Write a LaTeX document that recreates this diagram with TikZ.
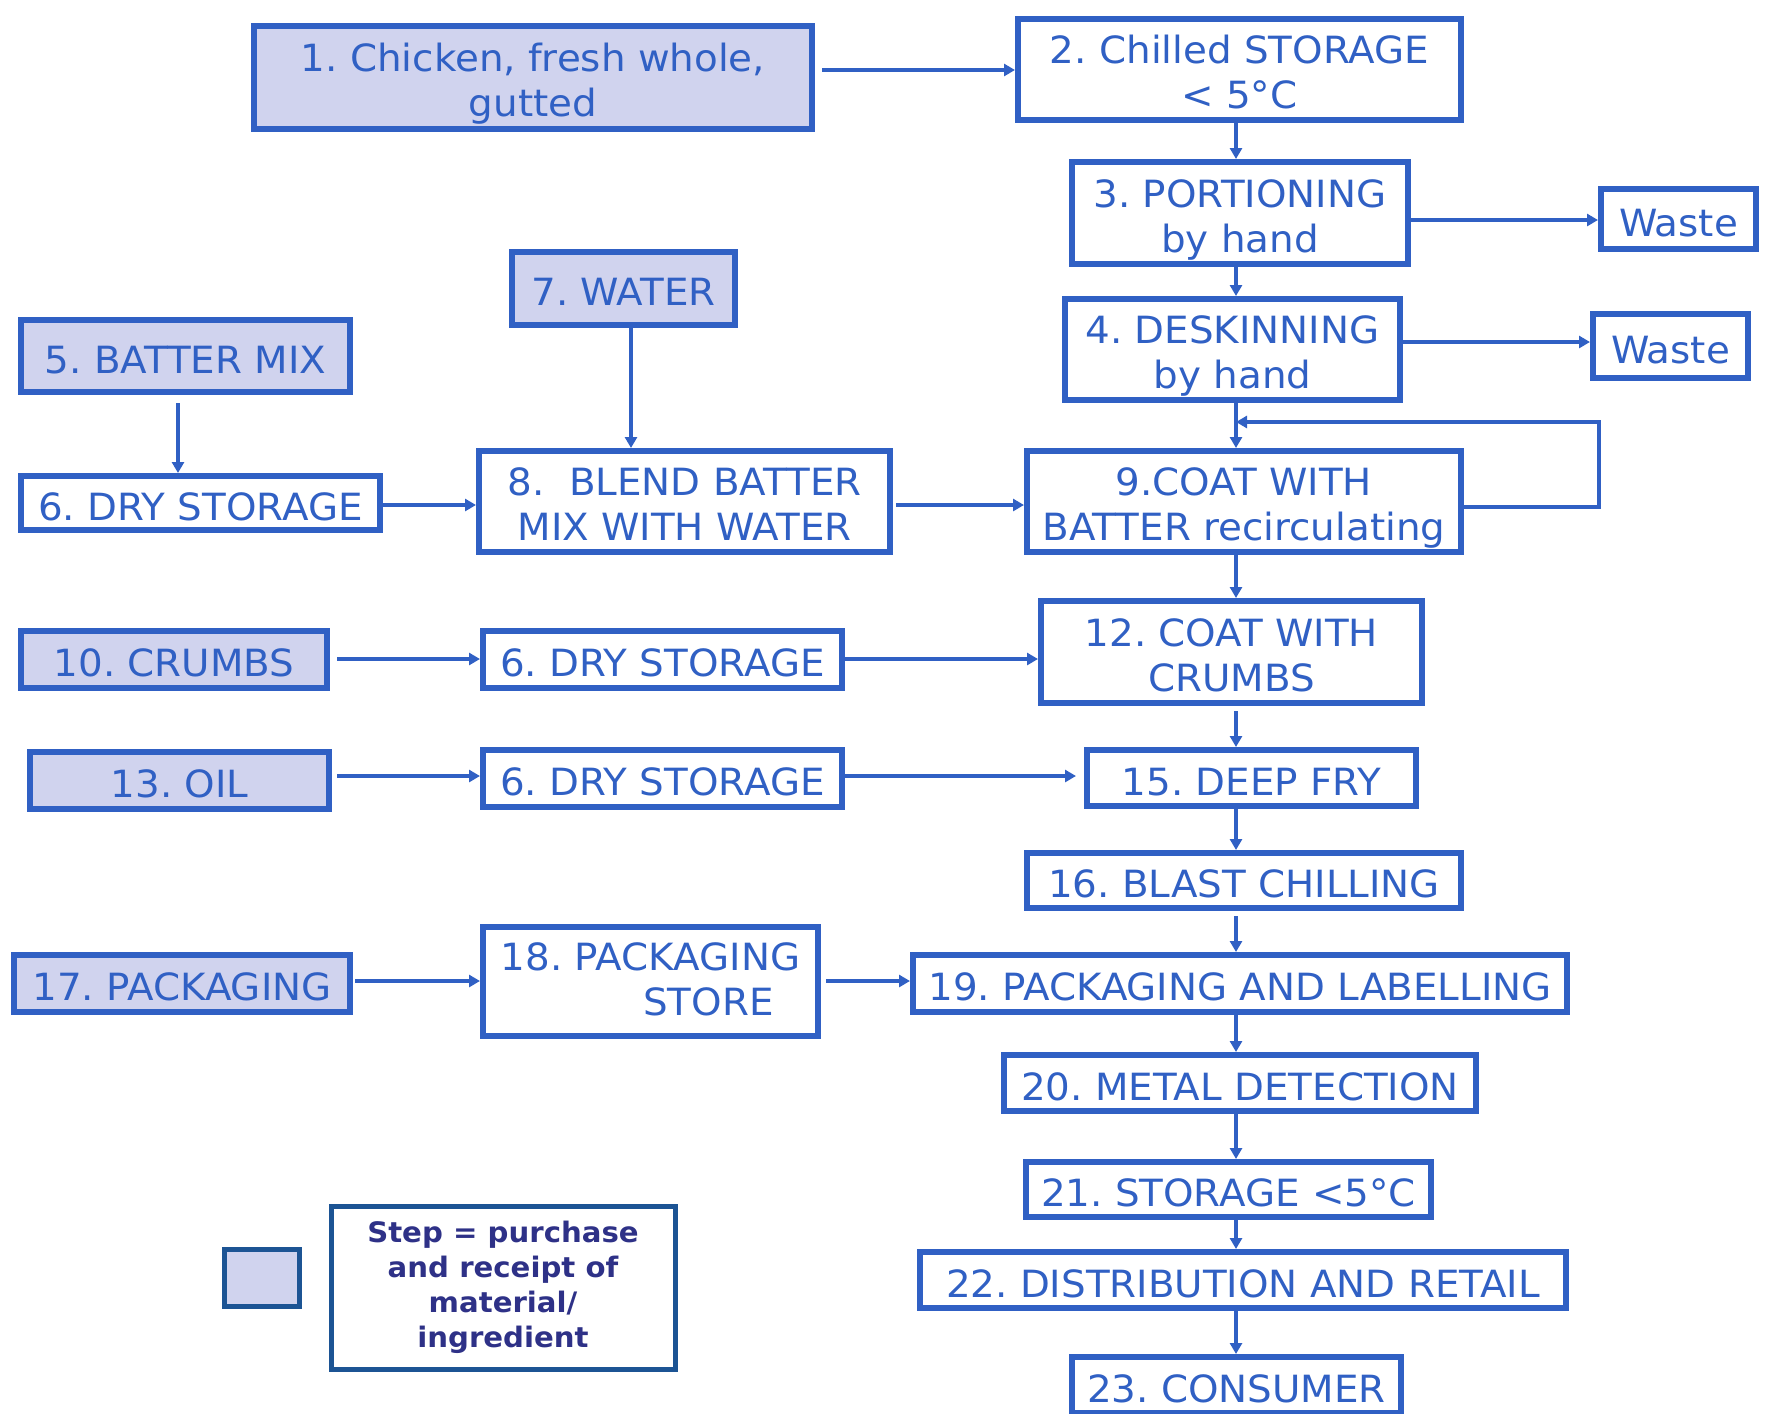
\documentclass[tikz,border=0pt]{standalone}
\usepackage{fontspec}
\setmainfont{DejaVu Sans}[FakeStretch=1.035]
\usetikzlibrary{arrows.meta}
\definecolor{flowblue}{RGB}{48,96,196}
\definecolor{inputfill}{RGB}{208,211,238}
\definecolor{keyborder}{RGB}{28,84,148}
\definecolor{keytext}{RGB}{46,49,135}
\frenchspacing
\begin{document}
\begin{tikzpicture}[x=1pt,y=-1pt,
  box/.style={draw=flowblue, line width=6pt, fill=white, text=flowblue,
    font=\fontsize{37.5}{45}\selectfont, align=center, inner sep=0pt,
    execute at begin node={\rule{0pt}{43pt}},
    execute at end node={\rule[-9pt]{0pt}{0pt}}},
  twoline/.style={execute at begin node={\rule{0pt}{#1}}},
  twoline/.default=87pt,
  input/.style={box, fill=inputfill},
  arr/.style={draw=flowblue, line width=4.5pt,
    -{Triangle[length=11pt,width=12pt]}}]
\useasboundingbox (0,0) rectangle (1773,1414);
\clip (0,0) rectangle (1773,1414);

% main processing column
\node[box, twoline, minimum width=443, minimum height=101] (b2) at (1239.5,69.5) {2. Chilled STORAGE\\ < 5°C};
\node[box, twoline, minimum width=336, minimum height=102] (b3) at (1240,213) {3. PORTIONING\\ by hand};
\node[box, twoline, minimum width=335, minimum height=101] (b4) at (1232.5,349.5) {4. DESKINNING\\ by hand};
\node[box, twoline, minimum width=434, minimum height=101] (b9) at (1244,501.5) {9.COAT WITH\\ BATTER recirculating};
\node[box, twoline, minimum width=381, minimum height=102] (b12) at (1231.5,652) {12. COAT WITH\\ CRUMBS};
\node[box, minimum width=329, minimum height=56] (b15) at (1251.5,778) {15. DEEP FRY};
\node[box, minimum width=434, minimum height=55] (b16) at (1244,880.5) {16. BLAST CHILLING};
\node[box, minimum width=654, minimum height=57] (b19) at (1240,983.5) {19. PACKAGING AND LABELLING};
\node[box, minimum width=472, minimum height=56] (b20) at (1240,1083) {20. METAL DETECTION};
\node[box, minimum width=405, minimum height=55] (b21) at (1228.5,1189.5) {21. STORAGE <5°C};
\node[box, minimum width=646, minimum height=56] (b22) at (1243,1280) {22. DISTRIBUTION AND RETAIL};
\node[box, minimum width=329, minimum height=56] (b23) at (1236.5,1385) {23. CONSUMER};

% waste outlets
\node[box, minimum width=155, minimum height=60] (w3) at (1678.5,219) {Waste};
\node[box, minimum width=155, minimum height=64] (w4) at (1670.5,346) {Waste};

% purchased materials and intermediate stores
\node[input, twoline, minimum width=558, minimum height=103] (b1) at (533,77.5) {1. Chicken, fresh whole,\\ gutted};
\node[input, minimum width=223, minimum height=73] (b7) at (623.5,288.5) {7. WATER};
\node[input, minimum width=329, minimum height=72] (b5) at (185.5,356) {5. BATTER MIX};
\node[box, minimum width=359, minimum height=54] (b6a) at (200.5,503) {6. DRY STORAGE};
\node[box, twoline, minimum width=411, minimum height=101] (b8) at (684.5,501.5) {8.\ \ BLEND BATTER\\ MIX WITH WATER};
\node[input, minimum width=306, minimum height=57] (b10) at (174,659.5) {10. CRUMBS};
\node[box, minimum width=359, minimum height=57] (b6b) at (662.5,659.5) {6. DRY STORAGE};
\node[input, minimum width=299, minimum height=57] (b13) at (179.5,780.5) {13. OIL};
\node[box, minimum width=359, minimum height=57] (b6c) at (662.5,778.5) {6. DRY STORAGE};
\node[input, minimum width=336, minimum height=57] (b17) at (182,983.5) {17. PACKAGING};
\node[box, twoline=77pt, minimum width=335, minimum height=109] (b18) at (650.5,981.5) {18. PACKAGING\\ \hspace*{116pt}STORE};

% key
\node[draw=keyborder, line width=5pt, fill=inputfill, minimum width=75, minimum height=57, inner sep=0pt] (keybox) at (262,1278) {};
\node[draw=keyborder, line width=5pt, text=keytext, minimum width=344, minimum height=163, inner sep=0pt, align=center,
  font=\fontsize{28.2}{35}\selectfont\bfseries] (keytxt) at (503,1287.5)
  {Step = purchase\\ and receipt of\\ material/\\ ingredient};

% helper coordinates for connector routes
\coordinate (ax) at (1236,0);
\coordinate (wx) at (631,0);
\coordinate (bx) at (178,0);
\coordinate (r1) at (0,70);
\coordinate (r3) at (0,220);
\coordinate (r4) at (0,342);
\coordinate (r8) at (0,505);
\coordinate (r9) at (0,507);
\coordinate (loopR) at (1599,507);
\coordinate (loopT) at (1599,422);
\coordinate (r12) at (0,659);
\coordinate (r15) at (0,776);
\coordinate (r19) at (0,981);

% connectors along the main column
\draw[arr, shorten <=7pt] (b1.east |- r1) -- (b2.west |- r1);
\draw[arr] (b2.south -| ax) -- (b3.north -| ax);
\draw[arr] (b3.east |- r3) -- (w3.west |- r3);
\draw[arr] (b3.south -| ax) -- (b4.north -| ax);
\draw[arr] (b4.east |- r4) -- (w4.west |- r4);
\draw[arr] (b4.south -| ax) -- (b9.north -| ax);
\draw[arr] (b9.east |- r9) -- (loopR) -- (loopT) -- (ax |- loopT);
\draw[arr] (b9.south -| ax) -- (b12.north -| ax);
\draw[arr, shorten <=5pt] (b12.south -| ax) -- (b15.north -| ax);
\draw[arr] (b15.south -| ax) -- (b16.north -| ax);
\draw[arr, shorten <=5pt] (b16.south -| ax) -- (b19.north -| ax);
\draw[arr] (b19.south -| ax) -- (b20.north -| ax);
\draw[arr] (b20.south -| ax) -- (b21.north -| ax);
\draw[arr] (b21.south -| ax) -- (b22.north -| ax);
\draw[arr] (b22.south -| ax) -- (b23.north -| ax);

% feeds from the left
\draw[arr] (b7.south -| wx) -- (b8.north -| wx);
\draw[arr, shorten <=8pt] (b5.south -| bx) -- (b6a.north -| bx);
\draw[arr] (b6a.east |- r8) -- (b8.west |- r8);
\draw[arr, shorten <=3pt] (b8.east |- r8) -- (b9.west |- r8);
\draw[arr, shorten <=7pt] (b10.east |- r12) -- (b6b.west |- r12);
\draw[arr] (b6b.east |- r12) -- (b12.west |- r12);
\draw[arr, shorten <=5pt] (b13.east |- r15) -- (b6c.west |- r15);
\draw[arr, shorten >=8pt] (b6c.east |- r15) -- (b15.west |- r15);
\draw[arr, shorten <=2pt] (b17.east |- r19) -- (b18.west |- r19);
\draw[arr, shorten <=5pt] (b18.east |- r19) -- (b19.west |- r19);
\end{tikzpicture}
\end{document}
